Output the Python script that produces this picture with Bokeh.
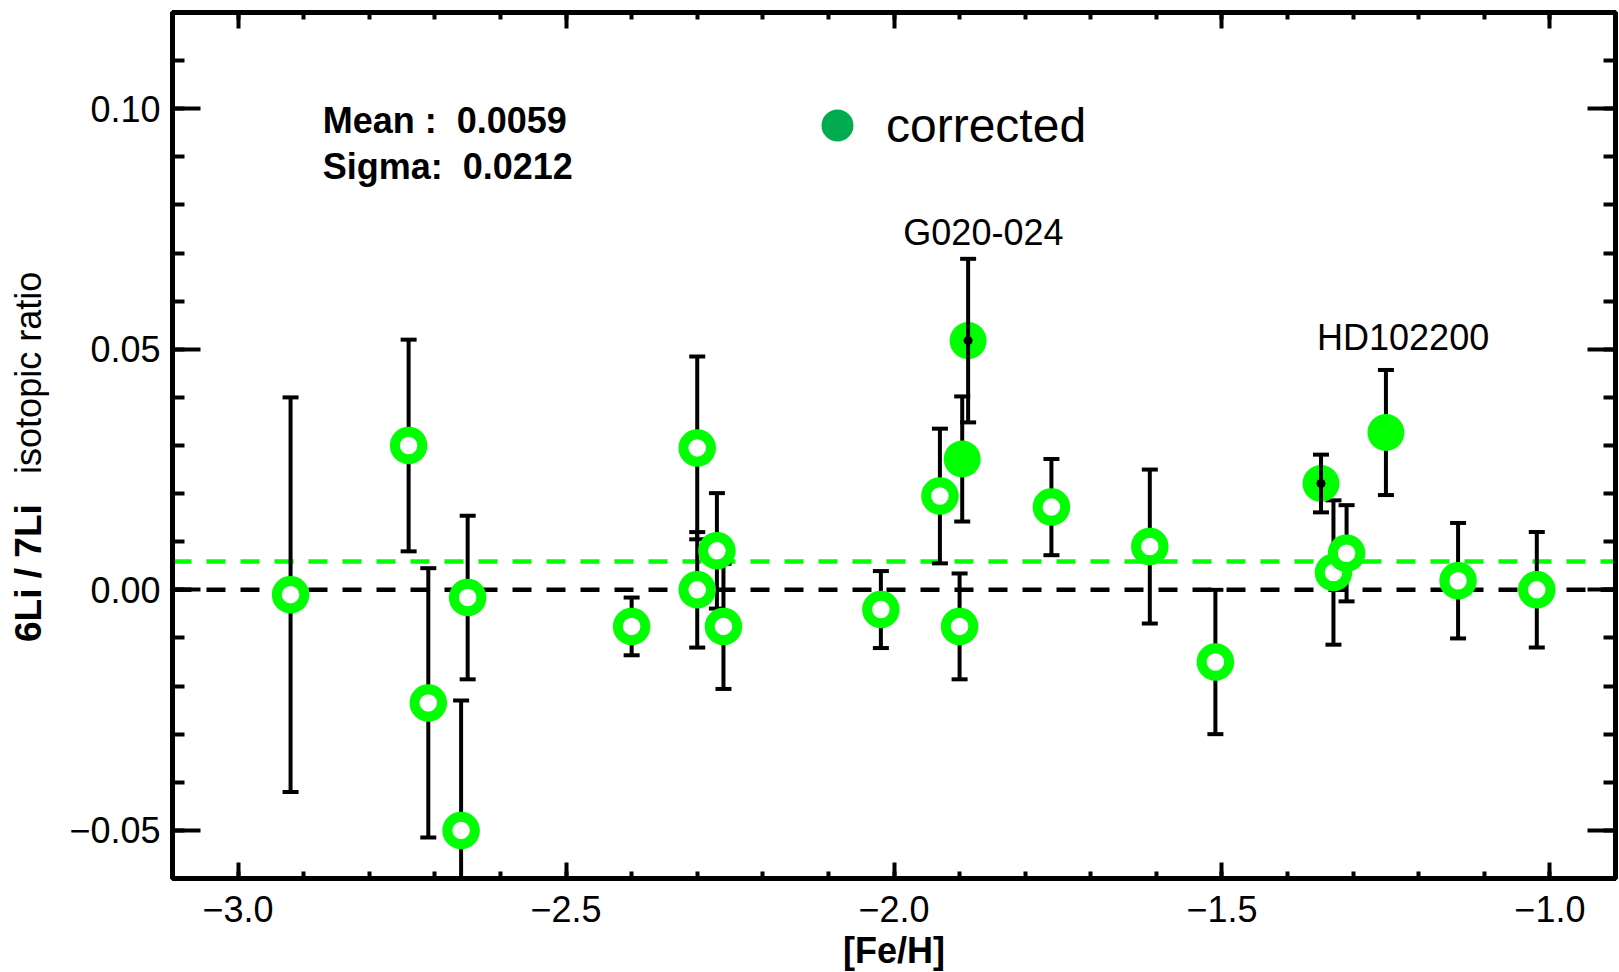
import numpy as np
from bokeh.plotting import figure
from bokeh.layouts import row
from bokeh.models import (ColumnDataSource, Span, Label, LinearAxis, FixedTicker,
                          CustomJSTickFormatter, Legend, LegendItem, Range1d)
from bokeh.embed import file_html
from bokeh.resources import INLINE

# ---------------- data ----------------
open_feh = [-2.92, -2.74, -2.71, -2.66, -2.65, -2.40, -2.30, -2.30, -2.27, -2.26,
            -2.02, -1.93, -1.90, -1.76, -1.61, -1.51, -1.33, -1.31, -1.14, -1.02]
open_ratio = [-0.0010, 0.0300, -0.0235, -0.0500, -0.0016, -0.0076, 0.0295, 0.0000, 0.0081, -0.0076,
              -0.0041, 0.0195, -0.0076, 0.0172, 0.0090, -0.0150, 0.0036, 0.0076, 0.0019, 0.0000]
open_err = [0.041, 0.022, 0.028, 0.027, 0.017, 0.006, 0.019, 0.012, 0.012, 0.013,
            0.008, 0.014, 0.011, 0.010, 0.016, 0.015, 0.015, 0.010, 0.012, 0.012]

filled_feh = [-1.896, -1.887, -1.349, -1.250]
filled_ratio = [0.0272, 0.0518, 0.0221, 0.0327]
filled_err = [0.013, 0.017, 0.006, 0.013]
filled_bar_on_top = [False, True, True, False]

star_names = ["G020-024", "HD102200"]
mean_ratio = 0.0059
sigma_ratio = 0.0212
legend_label = "corrected"

x_ticks = [-3.0, -2.5, -2.0, -1.5, -1.0]
x_tick_labels = ["\u22123.0", "\u22122.5", "\u22122.0", "\u22121.5", "\u22121.0"]
y_ticks = [-0.05, 0.0, 0.05, 0.10]
y_tick_labels = ["\u22120.05", "0.00", "0.05", "0.10"]

x_label = "[Fe/H]"
y_label_bold = "6Li / 7Li"
y_label_regular = "isotopic ratio"

# ---------------- styling ----------------
FONT = "Liberation Sans"
LIME = "#00FF00"
LEG_GREEN = "#00AC4E"
TITLE_STRIP = 60  # width of the strip that carries the y-axis title

p = figure(frame_width=1443, frame_height=866, x_range=(-3.1, -0.9), y_range=(-0.06, 0.12),
           output_backend="svg", toolbar_location=None,
           min_border_left=172 - TITLE_STRIP, min_border_right=4, min_border_top=12,
           min_border_bottom=94)
p.grid.visible = False
p.outline_line_color = "black"
p.outline_line_width = 5
p.background_fill_color = "white"
p.border_fill_color = "white"

x_minor = [round(v, 2) for v in np.arange(-3.1, -0.89, 0.1)]
y_minor = [round(v, 3) for v in np.arange(-0.06, 0.1201, 0.01)]

fmt_code = """
let best = 0; let bd = Infinity;
for (let i = 0; i < tvals.length; i++) {
  const d = Math.abs(tvals[i] - tick);
  if (d < bd) { bd = d; best = i; }
}
return tlabels[best];
"""
x_fmt = CustomJSTickFormatter(args=dict(tvals=x_ticks, tlabels=x_tick_labels), code=fmt_code)
y_fmt = CustomJSTickFormatter(args=dict(tvals=y_ticks, tlabels=y_tick_labels), code=fmt_code)
blank_fmt = CustomJSTickFormatter(code="return '';")


def style_axis(ax, tick_major, tick_minor, show_labels):
    ax.axis_line_width = 5
    ax.axis_line_color = "black"
    ax.major_tick_line_width = 4
    ax.minor_tick_line_width = 4
    ax.major_tick_line_color = "black"
    ax.minor_tick_line_color = "black"
    ax.major_tick_in = tick_major
    ax.major_tick_out = 0
    ax.minor_tick_in = tick_minor
    ax.minor_tick_out = 0
    ax.major_label_text_font = FONT
    ax.major_label_text_color = "black"
    if show_labels:
        ax.major_label_text_font_size = "36px"
        ax.major_label_standoff = 12
    else:
        ax.major_label_text_font_size = "1px"
        ax.major_label_standoff = 0


xax = p.xaxis[0]
xax.ticker = FixedTicker(ticks=x_ticks, minor_ticks=x_minor)
xax.formatter = x_fmt
style_axis(xax, 16, 7, True)
xax.major_label_standoff = 17
xax.axis_label = x_label
xax.axis_label_text_font = FONT
xax.axis_label_text_font_style = "bold"
xax.axis_label_text_font_size = "36px"
xax.axis_label_text_color = "black"
xax.axis_label_standoff = 5

yax = p.yaxis[0]
yax.ticker = FixedTicker(ticks=y_ticks, minor_ticks=y_minor)
yax.formatter = y_fmt
style_axis(yax, 28, 12, True)

top = LinearAxis(ticker=FixedTicker(ticks=x_ticks, minor_ticks=x_minor), formatter=blank_fmt)
style_axis(top, 16, 7, False)
p.add_layout(top, "above")
right = LinearAxis(ticker=FixedTicker(ticks=y_ticks, minor_ticks=y_minor), formatter=blank_fmt)
style_axis(right, 28, 12, False)
p.add_layout(right, "right")

# reference lines
p.add_layout(Span(location=0.0, dimension="width", line_color="black", line_width=4.5,
                  line_dash="19 15", level="underlay"))
p.add_layout(Span(location=mean_ratio, dimension="width", line_color=LIME, line_width=4.5,
                  line_dash="19 15", level="underlay"))

# sources
o_y = np.array(open_ratio)
o_e = np.array(open_err)
src_open = ColumnDataSource(dict(x=open_feh, y=open_ratio, lo=o_y - o_e, hi=o_y + o_e))

f_x = np.array(filled_feh)
f_y = np.array(filled_ratio)
f_e = np.array(filled_err)
top_mask = np.array(filled_bar_on_top)
src_f_under = ColumnDataSource(dict(x=f_x[~top_mask], y=f_y[~top_mask],
                                    lo=(f_y - f_e)[~top_mask], hi=(f_y + f_e)[~top_mask]))
src_f_over = ColumnDataSource(dict(x=f_x[top_mask], y=f_y[top_mask],
                                   lo=(f_y - f_e)[top_mask], hi=(f_y + f_e)[top_mask]))


def bars(src):
    p.segment("x", "lo", "x", "hi", source=src, line_color="black", line_width=4)
    p.scatter("x", "lo", source=src, marker="dash", size=16, line_color="black", line_width=4)
    p.scatter("x", "hi", source=src, marker="dash", size=16, line_color="black", line_width=4)


bars(src_open)
bars(src_f_under)
p.scatter("x", "y", source=src_f_under, size=37, fill_color=LIME, line_color=None)
p.scatter("x", "y", source=src_open, size=27.5, fill_color="white", line_color=LIME, line_width=10)
p.scatter("x", "y", source=src_f_over, size=37, fill_color=LIME, line_color=None)
bars(src_f_over)
p.scatter("x", "y", source=src_f_over, size=9, fill_color="black", line_color=None)

# legend ("corrected")
leg_src = ColumnDataSource(dict(x=[np.nan], y=[np.nan]))
leg_r = p.scatter("x", "y", source=leg_src, size=32, fill_color=LEG_GREEN, line_color=None)
legend = Legend(items=[LegendItem(label=legend_label, renderers=[leg_r])],
                location=(625, 713), glyph_width=80, glyph_height=80, label_standoff=9,
                padding=0, margin=0, border_line_color=None, background_fill_alpha=0,
                label_text_font=FONT, label_text_font_size="48px", label_text_color="black",
                label_height=80)
p.add_layout(legend, "center")

# annotations
NB = "\u00a0"
common = dict(text_font=FONT, text_font_size="36px", text_color="black", text_baseline="alphabetic")
p.add_layout(Label(x=-2.871, y=0.0975, text="Mean :" + NB + " %.4f" % mean_ratio,
                   text_font_style="bold", **common))
p.add_layout(Label(x=-2.871, y=0.0879, text="Sigma:" + NB + " %.4f" % sigma_ratio,
                   text_font_style="bold", **common))
p.add_layout(Label(x=-1.8637, y=0.0743, text=star_names[0], text_align="center", **common))
p.add_layout(Label(x=-1.2238, y=0.0525, text=star_names[1], text_align="center", **common))

# ---------------- strip on the left that carries the y-axis title ----------------
t = figure(frame_width=TITLE_STRIP, frame_height=972, x_range=Range1d(0, TITLE_STRIP),
           y_range=Range1d(972, 0), output_backend="svg", toolbar_location=None,
           x_axis_type=None, y_axis_type=None, min_border=0,
           min_border_left=0, min_border_right=0, min_border_top=0, min_border_bottom=0)
t.grid.visible = False
t.outline_line_color = None
t.background_fill_color = "white"
t.border_fill_color = "white"
t.add_layout(Label(x=27.5, y=629.5, text=y_label_bold, angle=np.pi / 2, text_font=FONT,
                   text_font_size="37px", text_font_style="bold", text_color="black",
                   text_align="left", text_baseline="middle"))
t.add_layout(Label(x=27.5, y=461.4, text=y_label_regular, angle=np.pi / 2, text_font=FONT,
                   text_font_size="36px", text_color="black",
                   text_align="left", text_baseline="middle"))

layout = row(t, p, spacing=0)
open("out.html", "w").write(file_html(layout, INLINE))
